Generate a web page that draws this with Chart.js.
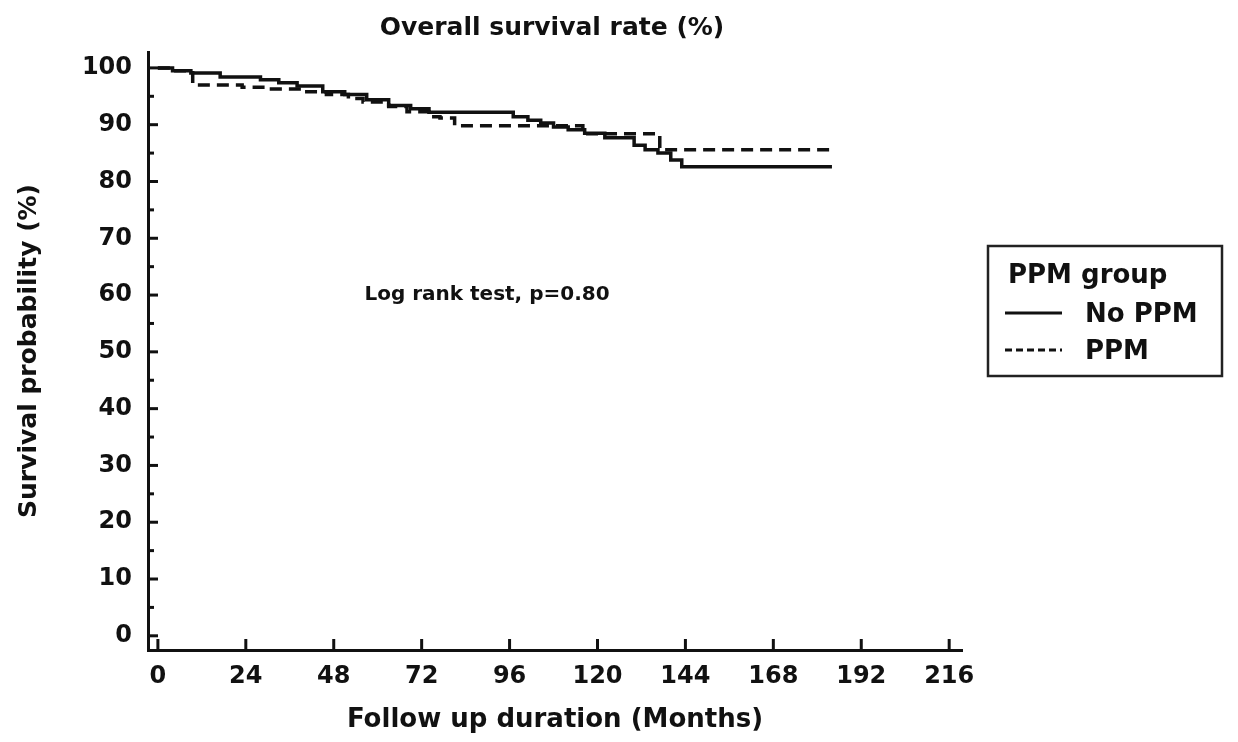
<!DOCTYPE html>
<html>
<head>
<meta charset="utf-8">
<script src="https://cdn.jsdelivr.net/npm/chart.js@4/dist/chart.umd.min.js"></script>
<style>
  html, body { margin: 0; padding: 0; background: #fff; }
  #chart { display: block; }
</style>
</head>
<body>
<canvas id="chart" width="1238" height="742"></canvas>
<script>
// Kaplan-Meier steps (months, survival %)
const noPpmMonths = [0, 4, 9, 17, 28, 33, 38, 45, 51, 57, 63, 69, 74, 97, 101, 104.5, 108, 112, 116.5, 122, 130, 133, 136.5, 140, 143, 184];
const noPpmSurv = [100, 99.5, 99.1, 98.4, 97.9, 97.4, 96.8, 95.8, 95.3, 94.4, 93.4, 92.8, 92.2, 91.4, 90.8, 90.3, 89.6, 89.1, 88.5, 87.7, 86.4, 85.6, 85.0, 83.8, 82.6, 82.6];

const ppmMonths = [0, 4, 9.5, 23, 31, 40, 46, 52, 56, 63, 68, 74, 77, 81, 116, 137, 184];
const ppmSurv = [100, 99.5, 97.0, 96.6, 96.3, 95.8, 95.3, 94.6, 94.0, 93.2, 92.3, 91.4, 91.2, 89.8, 88.4, 85.6, 85.6];

const xTicks = [0, 24, 48, 72, 96, 120, 144, 168, 192, 216];
const yTicks = [0, 10, 20, 30, 40, 50, 60, 70, 80, 90, 100];
const yMinorTicks = [5, 15, 25, 35, 45, 55, 65, 75, 85, 95];

const INK = "#111";
const FONT = "'DejaVu Sans', sans-serif";

function toPoints(xs, ys) {
  return xs.map((x, i) => ({ x: x, y: ys[i] }));
}

// title, annotation, inward tick marks and boxed legend
const extras = {
  id: "extras",
  afterDraw(chart) {
    const ctx = chart.ctx;
    const xs = chart.scales.x;
    const ys = chart.scales.y;
    const area = chart.chartArea;
    ctx.save();
    ctx.strokeStyle = INK;
    ctx.fillStyle = INK;
    ctx.lineWidth = 3;

    // ticks pointing into the plot
    xTicks.forEach((v) => {
      const px = xs.getPixelForValue(v);
      ctx.beginPath();
      ctx.moveTo(px, area.bottom);
      ctx.lineTo(px, area.bottom - 11);
      ctx.stroke();
    });
    yTicks.forEach((v) => {
      const py = ys.getPixelForValue(v);
      ctx.beginPath();
      ctx.moveTo(area.left, py);
      ctx.lineTo(area.left + 10, py);
      ctx.stroke();
    });
    yMinorTicks.forEach((v) => {
      const py = ys.getPixelForValue(v);
      ctx.beginPath();
      ctx.moveTo(area.left, py);
      ctx.lineTo(area.left + 6, py);
      ctx.stroke();
    });

    // title
    ctx.textAlign = "center";
    ctx.textBaseline = "middle";
    ctx.font = "bold 25px " + FONT;
    ctx.fillText("Overall survival rate (%)", 552, 28);

    // log rank note
    ctx.font = "bold 20px " + FONT;
    ctx.textBaseline = "alphabetic";
    ctx.fillText("Log rank test, p=0.80", 487, 300);

    // legend box
    ctx.lineWidth = 2.5;
    ctx.strokeStyle = "#222";
    ctx.strokeRect(988, 246, 234, 130);
    ctx.textAlign = "left";
    ctx.font = "bold 26px " + FONT;
    ctx.fillText("PPM group", 1008, 283);
    ctx.strokeStyle = INK;
    ctx.lineWidth = 3;
    chart.data.datasets.forEach((ds, i) => {
      const ly = 313 + i * 37;
      ctx.setLineDash(ds.borderDash ? [7, 4] : []);
      ctx.beginPath();
      ctx.moveTo(1005, ly);
      ctx.lineTo(1062, ly);
      ctx.stroke();
      ctx.setLineDash([]);
      ctx.fillText(ds.label, 1085, ly + 9);
    });
    ctx.restore();
  },
};

const chart = new Chart("chart", {
  type: "line",
  data: {
    datasets: [
      {
        label: "No PPM",
        data: toPoints(noPpmMonths, noPpmSurv),
        borderColor: INK,
        borderWidth: 3.5,
        stepped: true,
        pointRadius: 0,
        fill: false,
      },
      {
        label: "PPM",
        data: toPoints(ppmMonths, ppmSurv),
        borderColor: INK,
        borderWidth: 3.5,
        borderDash: [12, 7],
        stepped: true,
        pointRadius: 0,
        fill: false,
      },
    ],
  },
  options: {
    responsive: false,
    animation: false,
    layout: { padding: { top: 52, right: 276, left: 0, bottom: 0 } },
    plugins: {
      legend: { display: false },
      tooltip: { enabled: false },
    },
    scales: {
      x: {
        type: "linear",
        min: -2.7,
        max: 219.5,
        grid: { display: false, drawTicks: false },
        border: { display: true, color: INK, width: 3 },
        ticks: {
          color: INK,
          padding: 12,
          maxRotation: 0,
          font: { family: FONT, size: 24, weight: "bold" },
        },
        afterBuildTicks: (scale) => {
          scale.ticks = xTicks.map((v) => ({ value: v }));
        },
        afterFit: (scale) => {
          scale.height = 92;
          scale.paddingLeft = 0;
          scale.paddingRight = 0;
        },
        title: {
          display: true,
          text: "Follow up duration (Months)",
          color: INK,
          padding: { top: 0, bottom: 6 },
          font: { family: FONT, size: 26, weight: "bold" },
        },
      },
      y: {
        min: -2.5,
        max: 102.8,
        grid: { display: false, drawTicks: false },
        border: { display: true, color: INK, width: 3 },
        ticks: {
          color: INK,
          padding: 16,
          font: { family: FONT, size: 24, weight: "bold" },
        },
        afterBuildTicks: (scale) => {
          scale.ticks = yTicks.map((v) => ({ value: v }));
        },
        afterFit: (scale) => {
          scale.width = 148;
          scale.paddingTop = 0;
          scale.paddingBottom = 0;
        },
        title: {
          display: true,
          text: "Survival probability (%)",
          color: INK,
          padding: { top: 14, bottom: 0 },
          font: { family: FONT, size: 25, weight: "bold" },
        },
      },
    },
  },
  plugins: [extras],
});
</script>
</body>
</html>
